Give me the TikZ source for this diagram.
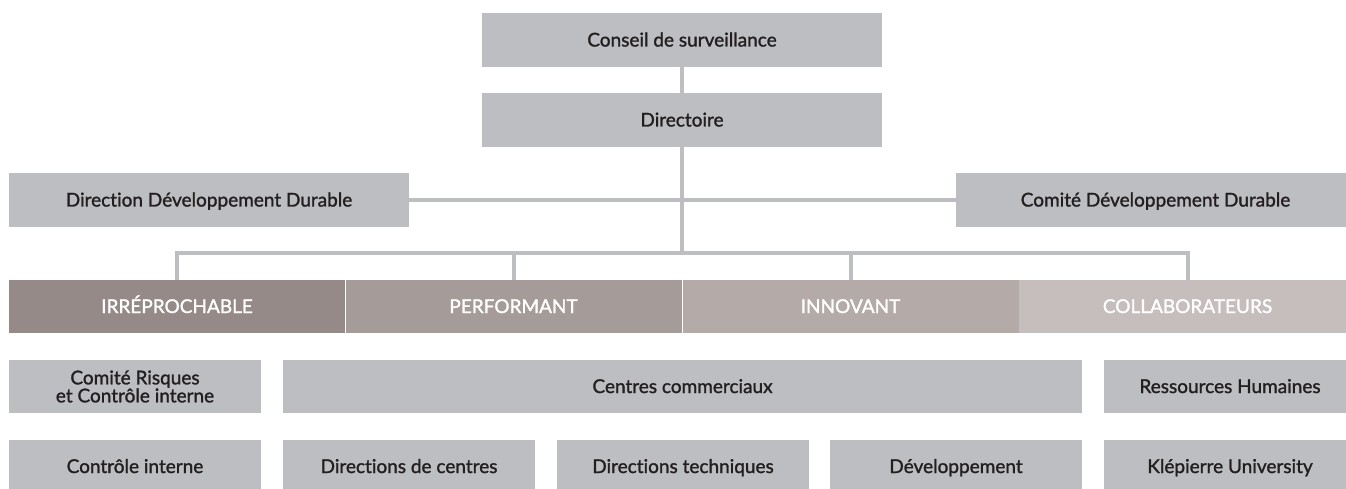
\documentclass[tikz,border=0pt]{standalone}
\usepackage{fontspec}
\setmainfont{Lato}[Ligatures=NoCommon, FakeBold=1.4]
\definecolor{boxgray}{HTML}{BDBEC1}
\definecolor{txt}{HTML}{231F20}
\definecolor{cirr}{HTML}{958A88}
\definecolor{cperf}{HTML}{A59C9A}
\definecolor{cinn}{HTML}{B4ABA9}
\definecolor{ccol}{HTML}{C6BDBD}
\tikzset{
  gbox/.style={fill=boxgray, text=txt, minimum height=54pt, inner sep=0pt, align=center,
    font=\fontsize{19}{18}\selectfont},
  oneline/.style={text height=13pt, text depth=0pt},
  bar/.style={text=white, minimum height=53pt, inner sep=0pt, align=center,
    font=\fontsize{19}{18}\selectfont, oneline},
  conn/.style={draw=boxgray, line width=4pt, line join=miter},
}
\begin{document}
\begin{tikzpicture}[x=1pt,y=-1pt]
\useasboundingbox (0,0) rectangle (1346,489);
\clip (0,0) rectangle (1346,489);
% top
\node[gbox, oneline, minimum width=400pt] (cs) at (682,40) {Conseil de surveillance};
\node[gbox, oneline, minimum width=400pt] (dir) at (682,120) {Directoire};
\node[gbox, oneline, minimum width=400pt] (ddd) at (209,200) {Direction Développement Durable};
\node[gbox, oneline, minimum width=399pt] (cdd) at (1155.5,200) {Comité Développement Durable};
% bars
\node[bar, fill=cirr, minimum width=336pt] (irr) at (177,306.5) {IRRÉPROCHABLE};
\node[bar, fill=cperf, minimum width=337pt] (perf) at (513.5,306.5) {PERFORMANT};
\node[bar, fill=cinn, minimum width=337pt] (inn) at (850.5,306.5) {INNOVANT};
\node[bar, fill=ccol, minimum width=337pt] (col) at (1187.5,306.5) {COLLABORATEURS};
\draw[white, line width=1pt] (irr.north east) -- (irr.south east);
\draw[white, line width=1pt] (perf.north east) -- (perf.south east);
% row 2
\node[gbox, minimum width=252pt, minimum height=53pt] (cri) at (135,386.5) {Comité Risques\\et Contrôle interne};
\node[gbox, oneline, minimum width=799pt, minimum height=53pt] (cc) at (682.5,386.5) {Centres commerciaux};
\node[gbox, oneline, minimum width=252pt, minimum height=53pt] (rh) at (1230,386.5) {Ressources Humaines};
% row 3
\node[gbox, oneline, minimum width=252pt, minimum height=53pt] (ci) at (135,466.5) {Contrôle interne};
\node[gbox, oneline, minimum width=252pt, minimum height=53pt] (ddc) at (409,466.5) {Directions de centres};
\node[gbox, oneline, minimum width=252pt, minimum height=53pt] (dt) at (683,466.5) {Directions techniques};
\node[gbox, oneline, minimum width=252pt, minimum height=53pt] (dev) at (956,466.5) {Développement};
\node[gbox, oneline, minimum width=252pt, minimum height=53pt] (ku) at (1230,466.5) {Klépierre University};
% connectors
\coordinate (hub) at (682,253);
\draw[conn] (cs.south) -- (dir.north);
\draw[conn] (dir.south) -- (hub);
\draw[conn] (ddd.east) -- (cdd.west);
\draw[conn] (irr.north) |- (hub) -| (col.north);
\draw[conn] (perf.north) -- (perf.north |- hub);
\draw[conn] (inn.north) -- (inn.north |- hub);
\end{tikzpicture}
\end{document}
